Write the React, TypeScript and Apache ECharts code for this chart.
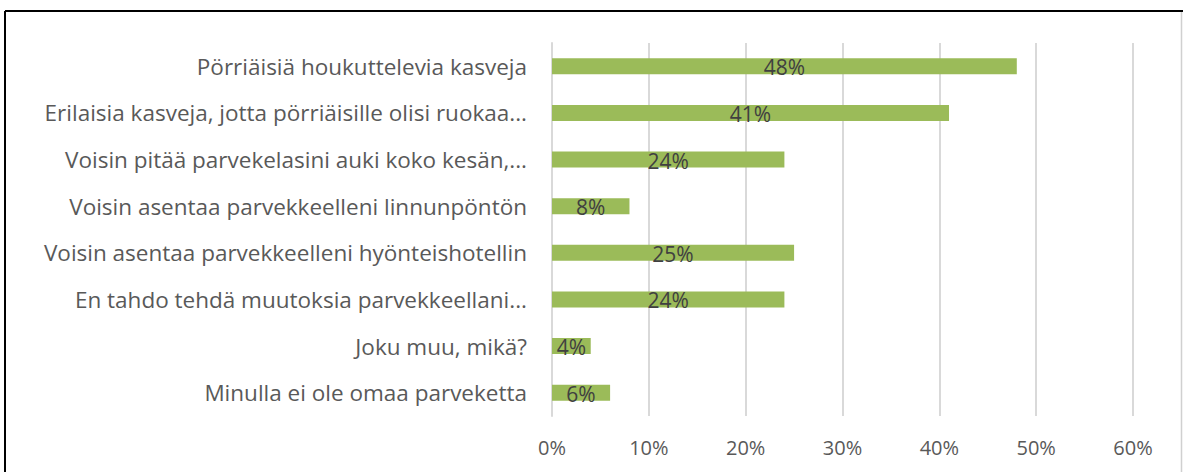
import React, { useEffect, useRef } from "react";
import * as echarts from "echarts";

const categories: string[] = [
  "Pörriäisiä houkuttelevia kasveja",
  "Erilaisia kasveja, jotta pörriäisille olisi ruokaa...",
  "Voisin pitää parvekelasini auki koko kesän,...",
  "Voisin asentaa parvekkeelleni linnunpöntön",
  "Voisin asentaa parvekkeelleni hyönteishotellin",
  "En tahdo tehdä muutoksia parvekkeellani...",
  "Joku muu, mikä?",
  "Minulla ei ole omaa parveketta",
];
const values: number[] = [48, 41, 24, 8, 25, 24, 4, 6];
const axisTicks: number[] = [0, 10, 20, 30, 40, 50, 60];

export default function App() {
  const ref = useRef<HTMLDivElement>(null);
  useEffect(() => {
    if (!ref.current) return;
    const chart = echarts.init(ref.current, undefined, { renderer: "svg" });
    const font = "'Open Sans', 'Noto Sans', sans-serif";
    chart.setOption({
      animation: false,
      backgroundColor: "#ffffff",
      textStyle: { fontFamily: font },
      grid: { left: 552, right: 50, top: 43, bottom: 56, containLabel: false },
      xAxis: {
        type: "value",
        min: axisTicks[0],
        max: axisTicks[axisTicks.length - 1],
        interval: 10,
        axisLine: { show: false },
        axisTick: { show: false },
        splitLine: { show: true, lineStyle: { color: "#d9d9d9", width: 2 } },
        axisLabel: {
          formatter: (v: number) => `${v}%`,
          color: "#595959",
          fontSize: 20,
          fontFamily: font,
          margin: 21,
        },
      },
      yAxis: {
        type: "category",
        data: categories,
        inverse: true,
        axisLine: { show: true, lineStyle: { color: "#d9d9d9", width: 2 } },
        axisTick: { show: false },
        axisLabel: {
          color: "#595959",
          fontSize: 22.5,
          fontFamily: font,
          margin: 25,
        },
      },
      series: [
        {
          type: "bar",
          data: values,
          barWidth: 16,
          itemStyle: { color: "#9bbb59" },
          label: {
            show: true,
            position: "inside",
            formatter: (p: any) => `${p.value}%`,
            color: "#404040",
            fontSize: 21,
            fontFamily: font,
            offset: [0, 1],
          },
        },
      ],
      graphic: [
        { type: "line", shape: { x1: 5, y1: 11, x2: 1183, y2: 11 }, style: { stroke: "#000", lineWidth: 2 } },
        { type: "line", shape: { x1: 5, y1: 11, x2: 5, y2: 472 }, style: { stroke: "#000", lineWidth: 2 } },
        { type: "line", shape: { x1: 1181.5, y1: 12, x2: 1181.5, y2: 472 }, style: { stroke: "#d0d0d0", lineWidth: 1.5 } },
      ],
    });
    return () => chart.dispose();
  }, []);
  return (
    <div
      ref={ref}
      style={{ position: "fixed", left: 0, top: 0, width: 1183, height: 472 }}
    />
  );
}
